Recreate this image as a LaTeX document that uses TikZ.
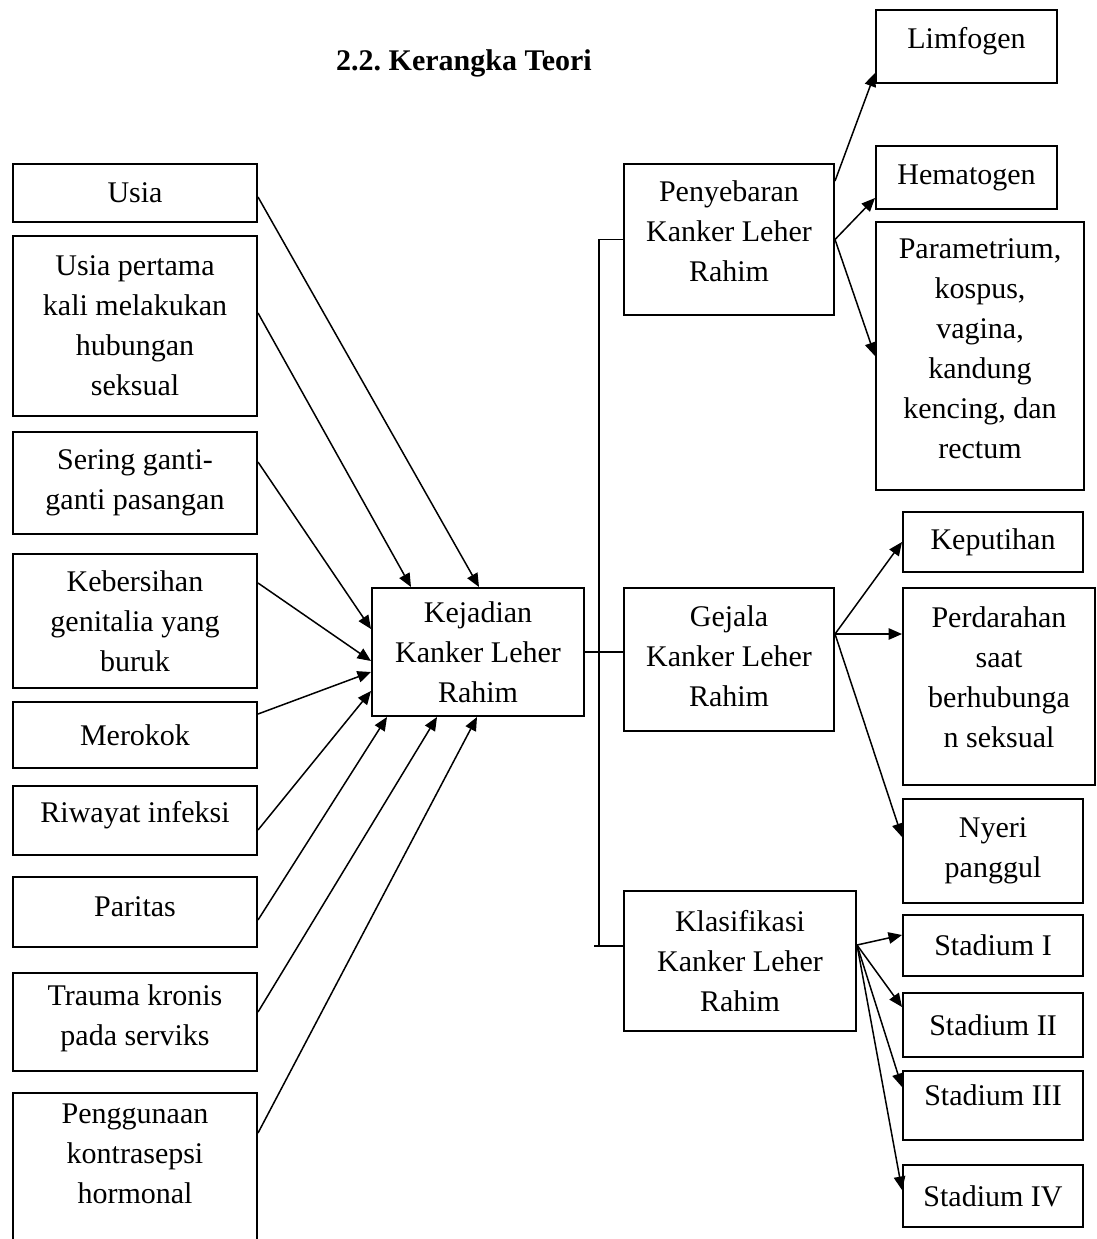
\documentclass[tikz,border=0pt]{standalone}
\usepackage{fontspec}
\setmainfont{Liberation Serif}
\usepackage{tikz}
\usetikzlibrary{arrows.meta}

\begin{document}
\begin{tikzpicture}[x=0.4pt,y=-0.4pt,
		box/.style={draw, line width=0.8pt, align=center, inner sep=1pt, font=\fontsize{12}{16}\selectfont},
		raised/.style={text depth=#1},
		arr/.style={line width=0.6pt, -{Triangle[length=5.4pt,width=4.6pt]}},
		link/.style={line width=0.6pt}]
		\useasboundingbox (0,0) rectangle (1097,1239);
		\node[font=\fontsize{12}{16}\selectfont\bfseries] (title) at (464,63) {2.2.\ Kerangka Teori};
		\node[box, minimum width=97.6pt, minimum height=23.2pt] (usia) at (135,193) {Usia};
		\node[box, minimum width=97.6pt, minimum height=72pt] (first) at (135,326) {Usia pertama\\kali melakukan\\hubungan\\seksual};
		\node[box, minimum width=97.6pt, minimum height=40.8pt] (partner) at (135,483) {Sering ganti-\\ganti pasangan};
		\node[box, minimum width=97.6pt, minimum height=53.6pt] (hygiene) at (135,621) {Kebersihan\\genitalia yang\\buruk};
		\node[box, minimum width=97.6pt, minimum height=26.4pt] (smoke) at (135,735) {Merokok};
		\node[box, minimum width=97.6pt, minimum height=27.6pt, raised=6.6pt] (infect) at (135,820.5) {Riwayat infeksi};
		\node[box, minimum width=97.6pt, minimum height=28pt, raised=4pt] (parity) at (135,912) {Paritas};
		\node[box, minimum width=97.6pt, minimum height=39.2pt, raised=5.4pt] (trauma) at (135,1022) {Trauma kronis\\pada serviks};
		\node[box, minimum width=97.6pt, minimum height=62.8pt, raised=14.4pt] (contra) at (135,1171.5) {Penggunaan\\kontrasepsi\\hormonal};
		\node[box, minimum width=84.8pt, minimum height=51.2pt] (cause) at (478,652) {Kejadian\\Kanker Leher\\Rahim};
		\node[box, minimum width=84pt, minimum height=60.4pt, raised=6.8pt] (spread) at (729,239.5) {Penyebaran\\Kanker Leher\\Rahim};
		\node[box, minimum width=84pt, minimum height=57.2pt, raised=3pt] (symptom) at (729,659.5) {Gejala\\Kanker Leher\\Rahim};
		\node[box, minimum width=92.8pt, minimum height=56pt] (class) at (740,961) {Klasifikasi\\Kanker Leher\\Rahim};
		\node[box, minimum width=72.4pt, minimum height=29.2pt, raised=7pt] (lymph) at (966.5,46.5) {Limfogen};
		\node[box, minimum width=72.4pt, minimum height=25.2pt] (blood) at (966.5,177.5) {Hematogen};
		\node[box, minimum width=83.2pt, minimum height=107.2pt, raised=6pt] (organs) at (980,356) {Parametrium,\\kospus,\\vagina,\\kandung\\kencing, dan\\rectum};
		\node[box, minimum width=72pt, minimum height=24pt] (white) at (993,542) {Keputihan};
		\node[box, minimum width=76.8pt, minimum height=78.8pt, raised=7.6pt] (bleed) at (999,686.5) {Perdarahan\\saat\\berhubunga\\n seksual};
		\node[box, minimum width=72pt, minimum height=41.6pt] (pain) at (993,851) {Nyeri\\panggul};
		\node[box, minimum width=72pt, minimum height=24.4pt] (st1) at (993,945.5) {Stadium I};
		\node[box, minimum width=72pt, minimum height=25.6pt] (st2) at (993,1025) {Stadium II};
		\node[box, minimum width=72pt, minimum height=27.6pt, raised=8pt] (st3) at (993,1105.5) {Stadium III};
		\node[box, minimum width=72pt, minimum height=24.8pt] (st4) at (993,1196) {Stadium IV};
		\coordinate (busend) at (599,946);
		\coordinate (tick) at (594,946);
		\coordinate (fork2) at ([yshift=10.2pt]symptom.east);
		\coordinate (fork3) at ([yshift=6.4pt]class.east);
		\draw[arr] ([yshift=-1.6pt]usia.east) -- ([xshift=43.2pt]cause.north west);
		\draw[arr] ([yshift=5.2pt]first.east) -- ([xshift=16pt]cause.north west);
		\draw[arr] ([yshift=8.4pt]partner.east) -- ([yshift=-16.8pt]cause.north west);
		\draw[arr] ([yshift=15.2pt]hygiene.east) -- ([yshift=-29.6pt]cause.north west);
		\draw[arr] ([yshift=8.4pt]smoke.east) -- ([yshift=-34pt]cause.north west);
		\draw[arr] ([yshift=-3.8pt]infect.east) -- ([yshift=-41.6pt]cause.north west);
		\draw[arr] ([yshift=-3.2pt]parity.east) -- ([xshift=6.4pt]cause.south west);
		\draw[arr] ([yshift=4pt]trauma.east) -- ([xshift=26.4pt]cause.south west);
		\draw[arr] ([yshift=15.4pt]contra.east) -- ([xshift=42.4pt]cause.south west);
		\draw[link] (spread.west) -| (busend);
		\draw[link] (tick) -- (tick -| class.west);
		\draw[link] (cause.east) -- (cause.east -| symptom.west);
		\draw[arr] ([yshift=-7.2pt]spread.north east) -- ([yshift=4.4pt]lymph.south west);
		\draw[arr] (spread.east) -- ([yshift=4.8pt]blood.south west);
		\draw[arr] (spread.east) -- (organs.west);
		\draw[arr] (fork2) -- (white.west);
		\draw[arr] (fork2) -- (fork2 -| bleed.west);
		\draw[arr] (fork2) -- ([yshift=5.6pt]pain.west);
		\draw[arr] (fork3) -- ([yshift=4.2pt]st1.west);
		\draw[arr] (fork3) -- ([yshift=-6pt]st2.north west);
		\draw[arr] (fork3) -- ([yshift=7.4pt]st3.west);
		\draw[arr] (fork3) -- ([yshift=2.4pt]st4.west);
\end{tikzpicture}
\end{document}
